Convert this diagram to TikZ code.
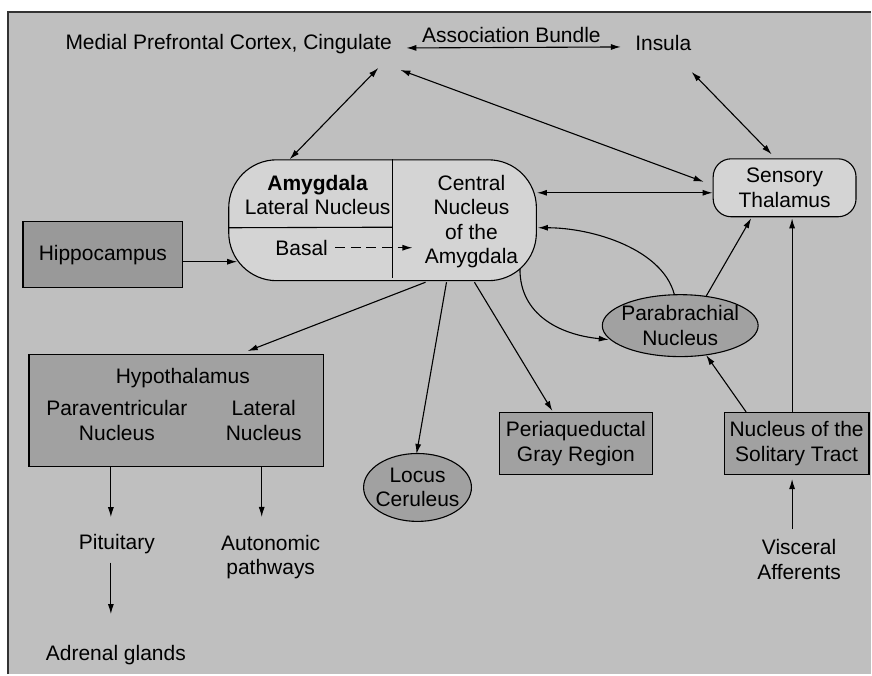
\documentclass[tikz,border=0pt]{standalone}
\usepackage{fontspec}
\setmainfont{Liberation Sans}
\usepackage{tikz}
\usetikzlibrary{positioning,arrows.meta,shapes.geometric,calc}

\begin{document}
\begin{tikzpicture}[
    x=0.5pt, y=-0.5pt,
    font=\fontsize{10.5}{12.25}\selectfont,
    block/.style={draw, align=center, inner sep=0pt, line width=0.55pt, fill=black!37},
    soft/.style={draw, rounded corners=9pt, align=center, inner sep=0pt, line width=0.55pt, fill=black!17},
    oval/.style={draw, ellipse, align=center, inner ysep=0pt, line width=0.55pt, fill=black!37},
    lbl/.style={align=center, inner sep=0pt},
    line/.style={-{Latex[length=5pt,width=3pt]}, line width=0.55pt},
    both/.style={{Latex[length=5pt,width=3pt]}-{Latex[length=5pt,width=3pt]}, line width=0.55pt}
]
% frame
\fill[white] (0,0) rectangle (872,675);
\fill[black!25] (8,12) rectangle (872,675);
\draw[line width=1pt, black!80] (8,675) -- (8,12) -- (872,12);

% cortex row
\node[lbl] (medial) at (229,44) {Medial Prefrontal Cortex, Cingulate};
\node[lbl] (assoc) at (512,35) {Association Bundle};
\node[lbl] (insula) at (664,43) {Insula};

% amygdala
\node[soft, rounded corners=24pt, minimum width=154pt, minimum height=60.5pt] (amyg) at (383,220.5) {};
\node[lbl] (lateral) at (318,195) {\textbf{Amygdala}\\Lateral Nucleus};
\node[lbl] (basal) at (302,248) {Basal};
\node[lbl] (central) at (472,222) {Central\\Nucleus\\of the\\Amygdala};
\draw[line width=0.55pt] ($(amyg.north)+(10,0)$) -- ($(amyg.south)+(10,-3)$);
\draw[line width=0.55pt] ($(amyg.west)+(0,7.5)$) -- ($(amyg.north)+(10,68)$);
\draw[line, dash pattern=on 5pt off 2.8pt] ($(basal.east)+(7,0)$) -- ($(central.west)+(-12,26)$);

\node[soft, minimum width=71.5pt, minimum height=29pt] (thal) at (785.5,188) {Sensory\\Thalamus};
\node[block, fill=black!40, minimum width=80pt, minimum height=33pt] (hippo) at (103,255) {Hippocampus};

% hypothalamus and outputs
\node[block, minimum width=147.5pt, minimum height=56pt] (hypo) at (176.5,411) {};
\node[lbl] (hyptitle) at (183,378) {Hypothalamus};
\node[lbl] (pvn) at (117,421) {Paraventricular\\Nucleus};
\node[lbl] (lhn) at (264,421) {Lateral\\Nucleus};
\node[lbl] (pit) at (117,545) {Pituitary};
\node[lbl] (auton) at (271,557.5) {Autonomic\\pathways};
\node[lbl] (adrenal) at (116,656) {Adrenal glands};

\node[oval, inner xsep=-2.5pt, minimum width=54pt, minimum height=34pt] (locus) at (418,488) {Locus\\Ceruleus};
\node[block, minimum width=76.5pt, minimum height=31pt] (peri) at (576.5,444) {Periaqueductal\\Gray Region};
\node[block, minimum width=72.5pt, minimum height=31pt] (nts) at (797.5,444) {Nucleus of the\\Solitary Tract};
\node[oval, inner xsep=-2pt, minimum width=78pt, minimum height=31pt] (para) at (681,326) {Parabrachial\\Nucleus};
\node[lbl] (visc) at (800,560) {Visceral\\Afferents};

% connections
\draw[both] ($(medial.east)+(14,4)$) -- ($(insula.west)+(-14,4)$);
\draw[both] ($(amyg.north)+(-93,0)$) -- ($(medial.east)+(-14,24)$);
\draw[both] ($(medial.east)+(8,26)$) -- ($(thal.west)+(-9,-6)$);
\draw[both] ($(insula.east)+(0,29)$) -- ($(thal.north)+(-13,-4)$);
\draw[both] ($(amyg.east)+(0,-27.5)$) -- ($(thal.west)+(0,5)$);
\draw[line] ($(para.north)+(-6,0)$) .. controls +(-12,-45) and +(55,0) .. ($(amyg.east)+(1,7.5)$);
\draw[line] ($(amyg.south east)+(-17,-12)$) .. controls +(0,45) and +(-50,-5) .. ($(para.west)+(7,14)$);
\draw[line] ($(para.north)+(26,2)$) -- ($(thal.south)+(-33.5,1)$);
\draw[line] ($(nts.north)+(-4.5,0)$) -- ($(thal.south)+(7.5,1)$);
\draw[line] ($(nts.north)+(-50.5,0)$) -- ($(para.south)+(26,-2)$);
\draw[line] ($(visc.north)+(-7,-10)$) -- ($(nts.south)+(-4.5,4)$);
\draw[line] ($(amyg.south)+(92,1)$) -- ($(peri.north)+(-23.5,-1)$);
\draw[line] ($(amyg.south)+(64,1)$) -- ($(locus.north)+(-1,1)$);
\draw[line] ($(amyg.south)+(43,1)$) -- ($(hypo.north)+(71.5,-3)$);
\draw[line] ($(hippo.east)+(0,7)$) -- ($(amyg.west)+(9,41.5)$);
\draw[line] ($(hypo.south)+(-65.5,0)$) -- ($(pit.north)+(-6,-17)$);
\draw[line] ($(hypo.south)+(85.5,0)$) -- ($(auton.north)+(-9,-17.5)$);
\draw[line] ($(pit.south)+(-6,8)$) -- ($(adrenal.north)+(-5,-31)$);
\end{tikzpicture}
\end{document}
